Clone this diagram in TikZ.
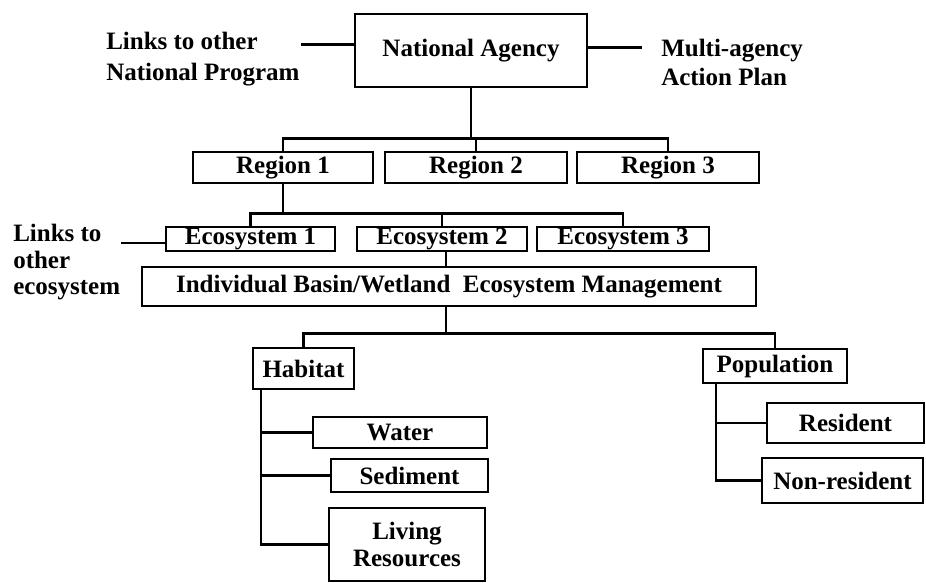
\documentclass[tikz,border=0pt]{standalone}
\usepackage{fontspec}
\setmainfont{Liberation Serif}
\usepackage{tikz}
\usetikzlibrary{
	calc,
	positioning
}
\tikzstyle{every picture}+=[line join=miter]

\begin{document}
\begin{tikzpicture}
	[x=1pt, y=-1pt, line width=2.5pt,
	 box/.style={draw, inner sep=0pt, align=center,
		font=\bfseries\fontsize{25}{27}\selectfont},
	 note/.style={inner sep=0pt, align=left, anchor=north west,
		font=\bfseries\fontsize{25}{#1}\selectfont}]

	\useasboundingbox (0,0) rectangle (926,582);

	% national level
	\begin{scope}
		\node[box, minimum width=232, minimum height=73] (agency) at (471,50.5) {National Agency};
		\node[note=31] (natlinks) at (105,31) {Links to other\\National Program};
		\node[note=29] (plan) at (660,38) {Multi-agency\\Action Plan};

		\draw ([yshift=6pt]agency.west) -- ([yshift=6pt]agency.west -| natlinks.east);
		\draw ([yshift=3pt]agency.east) -- ([xshift=-18pt, yshift=3pt]agency.east -| plan.west);
	\end{scope}

	% regions
	\begin{scope}
		\foreach \name/\x/\w/\txt in {reg1/283/180/Region 1, reg2/476/182/Region 2, reg3/668/182/Region 3} {
			\node[box, minimum width=\w, minimum height=31] (\name) at (\x,167.5) {\txt};
		}
		\draw (agency.south) -- ++(0,50) coordinate (regbus);
		\draw (reg1.north) |- (regbus) -| (reg3.north);
		\draw (reg2.north) -- (reg2.north |- regbus);
	\end{scope}

	% ecosystems
	\begin{scope}
		\foreach \name/\x/\w/\txt in {eco1/250.5/169/Ecosystem 1, eco2/442/170/Ecosystem 2, eco3/623/172/Ecosystem 3} {
			\node[box, minimum width=\w, minimum height=24] (\name) at (\x,239) {\txt};
		}
		\node[note=26.5] (ecolinks) at (12,223) {Links to\\other\\ecosystem};

		\draw (reg1.south) -- ++(0,29) coordinate (ecobus);
		\draw (eco1.north) |- (ecobus) -| (eco3.north);
		\draw (eco2.north) -- (eco2.north |- ecobus);
		\draw ([yshift=-4pt]eco1.west) -- ([yshift=-4pt]eco1.west -| ecolinks.east);
	\end{scope}

	% basin management
	\begin{scope}
		\node[box, minimum width=614, minimum height=39] (basin) at (449,286.5)
			{Individual Basin/Wetland\ \ Ecosystem Management};
		\coordinate (stem) at ([xshift=4pt]eco2.south);
		\draw (stem) -- (stem |- basin.north);
		\draw (stem |- basin.south) -- ++(0,26) coordinate (subbus);
	\end{scope}

	% habitat and population
	\begin{scope}
		\node[box, minimum width=101, minimum height=41] (habitat) at (303.5,368.5) {Habitat};
		\node[box, minimum width=144, minimum height=34] (popul) at (775,366) {Population};
		\draw (habitat.north) |- (subbus) -| (popul.north);

		\node[box, minimum width=174, minimum height=31] (water) at (400,432.5) {Water};
		\node[box, minimum width=157, minimum height=33] (sediment) at (409.5,475.5) {Sediment};
		\node[box, minimum width=156, minimum height=73] (living) at (407,544.5) {Living\\Resources};
		\foreach \leaf in {water, sediment, living} {
			\draw ([xshift=9pt]habitat.south west) |- (\leaf.west);
		}

		\node[box, minimum width=157, minimum height=40] (resident) at (845.5,423) {Resident};
		\node[box, minimum width=161, minimum height=45] (nonres) at (842.5,480.5) {Non-resident};
		\foreach \leaf in {resident, nonres} {
			\draw ([xshift=14pt]popul.south west) |- (\leaf.west);
		}
	\end{scope}

\end{tikzpicture}
\end{document}
